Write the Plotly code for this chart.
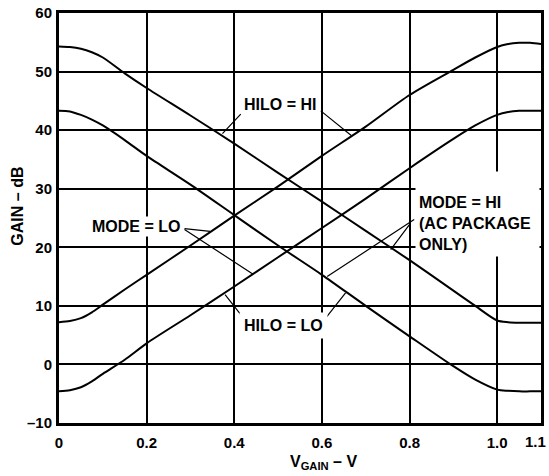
import plotly.graph_objects as go

# V_GAIN sample points (V)
v_gain = [0, 0.025, 0.05, 0.075, 0.1, 0.15, 0.2, 0.3, 0.4, 0.5, 0.6, 0.7,
          0.8, 0.9, 0.95, 1.0, 1.025, 1.05, 1.075, 1.1]

# gain curves (dB)
gain_hilo_hi_mode_hi = [54.3, 54.2, 53.9, 53.3, 52.4, 49.7, 47.2, 42.5, 37.7, 32.7, 27.8, 22.8,
                        17.8, 12.6, 10.0, 7.5, 7.2, 7.1, 7.1, 7.1]
gain_hilo_lo_mode_hi = [43.3, 43.2, 42.6, 41.8, 40.8, 38.3, 35.6, 30.7, 25.5, 20.3, 15.3, 10.0,
                        4.8, -0.3, -2.6, -4.3, -4.5, -4.6, -4.6, -4.6]
gain_hilo_hi_mode_lo = [7.2, 7.4, 7.9, 8.9, 10.2, 12.8, 15.3, 20.3, 25.4, 30.4, 35.6, 40.6,
                        46.0, 50.3, 52.4, 54.2, 54.7, 54.9, 54.9, 54.7]
gain_hilo_lo_mode_lo = [-4.6, -4.4, -3.9, -2.9, -1.6, 0.8, 3.6, 8.4, 13.3, 18.3, 23.3, 28.3,
                        33.5, 38.5, 40.8, 42.6, 43.1, 43.3, 43.3, 43.3]

x_ticks = [0, 0.2, 0.4, 0.6, 0.8, 1.0, 1.1]
x_ticktext = ['0', '0.2', '0.4', '0.6', '0.8', '1.0', '1.1']
y_ticks = [-10, 0, 10, 20, 30, 40, 50, 60]
y_ticktext = ['–10', '0', '10', '20', '30', '40', '50', '60']

FONT = 'Liberation Sans, Arial, sans-serif'

fig = go.Figure()
for ys in [gain_hilo_hi_mode_hi, gain_hilo_lo_mode_hi, gain_hilo_hi_mode_lo, gain_hilo_lo_mode_lo]:
    fig.add_trace(go.Scatter(
        x=v_gain, y=ys, mode='lines',
        line=dict(color='black', width=2, shape='spline', smoothing=0.8),
        showlegend=False, hoverinfo='skip',
    ))

# leader lines: (tail x, tail y, head x, head y)
leaders = [
    (0.418, 43.0, 0.373, 39.4), (0.594, 43.5, 0.667, 39.1),   # HILO = HI
    (0.283, 23.2, 0.345, 22.7), (0.283, 23.2, 0.443, 15.4),   # MODE = LO
    (0.418, 8.2, 0.379, 11.9), (0.600, 7.1, 0.654, 12.2),     # HILO = LO
    (0.814, 24.9, 0.612, 15.0), (0.804, 24.3, 0.757, 19.6),   # MODE = HI
]
for ax_, ay_, hx, hy in leaders:
    fig.add_annotation(x=hx, y=hy, ax=ax_, ay=ay_, axref='x', ayref='y', text='',
                       showarrow=True, arrowhead=0, arrowwidth=1.2, arrowcolor='black',
                       standoff=0, startstandoff=0)

lbl_font = dict(family=FONT, size=16, color='black', weight=700)
fig.add_annotation(x=0.504, y=44.4, text='HILO = HI', showarrow=False, font=lbl_font,
                   bgcolor='white', borderpad=1)
fig.add_annotation(x=0.176, y=23.5, text='MODE = LO', showarrow=False, font=lbl_font,
                   bgcolor='white', borderpad=1)
fig.add_annotation(x=0.513, y=6.6, text='HILO = LO', showarrow=False, font=lbl_font,
                   bgcolor='white', borderpad=4)
fig.add_annotation(x=0.813, y=25.6, xanchor='left', align='left', valign='bottom',
                   text='MODE = HI<br>(AC PACKAGE<br>ONLY)', showarrow=False, font=lbl_font,
                   bgcolor='white', borderpad=3, width=117, height=78)

# axis titles
fig.add_annotation(x=0.548, y=-0.097, xref='paper', yref='paper',
                   xanchor='center', yanchor='middle',
                   text='V<sub>GAIN</sub> – V', showarrow=False,
                   font=dict(family=FONT, size=16, color='black', weight=700))
fig.add_annotation(x=-0.086, y=0.529, xref='paper', yref='paper', textangle=-90,
                   xanchor='center', yanchor='middle',
                   text='GAIN – dB', showarrow=False,
                   font=dict(family=FONT, size=16, color='black', weight=700))

tick_font = dict(family=FONT, size=15, color='black', weight=700)

# last x label sits pulled in from the right edge, so draw it as an annotation
fig.add_annotation(x=x_ticks[-1], y=0, xref='x', yref='paper', text=x_ticktext[-1],
                   xanchor='center', yanchor='middle', xshift=-6, yshift=-18,
                   showarrow=False, font=tick_font)
x_ticktext_axis = x_ticktext[:-1] + ['']

fig.update_xaxes(range=[0, 1.1], tickvals=x_ticks, ticktext=x_ticktext_axis, tickfont=tick_font,
                 showgrid=True, gridcolor='black', gridwidth=1.5, zeroline=False,
                 showline=True, linecolor='black', linewidth=3, mirror=True,
                 ticks='', ticklabelstandoff=4, automargin=False, ticklabeloverflow='allow')
fig.update_yaxes(range=[-10, 60], tickvals=y_ticks, ticktext=y_ticktext, tickfont=tick_font,
                 showgrid=True, gridcolor='black', gridwidth=2.2, zeroline=False,
                 showline=True, linecolor='black', linewidth=3, mirror=True,
                 ticks='', ticklabelstandoff=1, automargin=False, ticklabeloverflow='allow')

fig.update_layout(
    width=549, height=476,
    margin=dict(l=59, r=8, t=13, b=53, autoexpand=False),
    paper_bgcolor='white', plot_bgcolor='white',
)

# drop the default 8px page margin so the figure fills the window
fig.write_html("out.html", config={'displayModeBar': False},
               post_script="document.body.style.margin='0';")
